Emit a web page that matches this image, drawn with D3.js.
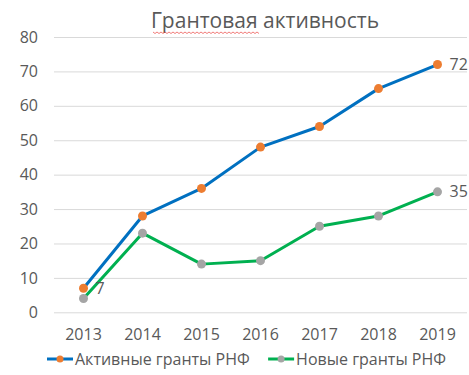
<!DOCTYPE html>
<html>
<head>
<meta charset="utf-8">
<script src="https://cdn.jsdelivr.net/npm/d3@7/dist/d3.min.js"></script>
<style>
  html, body { margin: 0; padding: 0; background: #fff; }
  svg { display: block; }
  text { font-family: "Open Sans", "Noto Sans", sans-serif; fill: #595959; }
</style>
</head>
<body>
<svg id="chart" width="469" height="375"></svg>
<script>
// Grant activity by year
const years = ["2013", "2014", "2015", "2016", "2017", "2018", "2019"];
const activeGrants = [7, 28, 36, 48, 54, 65, 72];
const newGrants = [4, 23, 14, 15, 25, 28, 35];
const yTicks = [0, 10, 20, 30, 40, 50, 60, 70, 80];
const titleText = "Грантовая активность";
const seriesNames = ["Активные гранты РНФ", "Новые гранты РНФ"];

const svg = d3.select("#chart");
const plot = { left: 54, right: 467, top: 37, bottom: 312.3 };

const x = d3.scaleBand().domain(years).range([plot.left, plot.right]).padding(0);
const y = d3.scaleLinear().domain([0, 80]).range([plot.bottom, plot.top]);
const cx = d => x(d) + x.bandwidth() / 2;

const series = [
  { name: seriesNames[0], values: activeGrants, line: "#0070C0", dot: "#ED7D31", labelIdx: [0, 6] },
  { name: seriesNames[1], values: newGrants, line: "#00B050", dot: "#A5A5A5", labelIdx: [6] }
];

// gridlines + y labels via axis
const yAxis = d3.axisLeft(y).tickValues(yTicks).tickSize(-(plot.right - plot.left)).tickPadding(16);
const gy = svg.append("g").attr("transform", `translate(${plot.left},0)`).call(yAxis);
gy.select(".domain").remove();
gy.selectAll(".tick line").attr("stroke", "#d9d9d9").attr("stroke-width", 1);
gy.selectAll(".tick text").attr("font-size", 16).style("fill", "#595959");

// x labels
const xAxis = d3.axisBottom(x).tickSize(0).tickPadding(16);
const gx = svg.append("g").attr("transform", `translate(0,${plot.bottom})`).call(xAxis);
gx.select(".domain").remove();
gx.selectAll(".tick text").attr("font-size", 16).style("fill", "#595959");

// lines
const line = d3.line().x((d, i) => cx(years[i])).y(d => y(d));
series.forEach(s => {
  svg.append("path")
    .datum(s.values)
    .attr("d", line)
    .attr("fill", "none")
    .attr("stroke", s.line)
    .attr("stroke-width", 3)
    .attr("stroke-linejoin", "round")
    .attr("stroke-linecap", "round");
});
series.forEach(s => {
  svg.append("g").selectAll("circle")
    .data(s.values)
    .join("circle")
    .attr("cx", (d, i) => cx(years[i]))
    .attr("cy", d => y(d))
    .attr("r", 4.5)
    .attr("fill", s.dot);
});

// data labels
series.forEach(s => {
  s.labelIdx.forEach(i => {
    svg.append("text")
      .attr("x", cx(years[i]) + 12)
      .attr("y", y(s.values[i]))
      .attr("dy", "0.35em")
      .attr("font-size", 16)
      .text(s.values[i]);
  });
});

// title
svg.append("text")
  .attr("x", 265)
  .attr("y", 28)
  .attr("text-anchor", "middle")
  .attr("font-size", 21)
  .text(titleText);

// spelling squiggle under the first word
const sq = d3.path();
const sx0 = 153, sx1 = 258, sy = 32;
sq.moveTo(sx0, sy);
for (let px = sx0, k = 0; px < sx1; px += 2, k++) {
  sq.lineTo(px + 2, sy + (k % 2 === 0 ? 1.5 : 0));
}
svg.append("path").attr("d", sq.toString()).attr("fill", "none").attr("stroke", "#e8302a").attr("stroke-width", 0.8).attr("opacity", 0.8);

// legend: first entry starts at the left edge, second entry ends at the right edge
const ly = 359, legLeft = 47, legRight = 446, keyW = 26, keyGap = 2;
const legend = svg.append("g");
const entries = series.map(s => {
  const g = legend.append("g");
  g.append("line").attr("x1", 0).attr("x2", keyW).attr("y1", ly).attr("y2", ly)
    .attr("stroke", s.line).attr("stroke-width", 3);
  g.append("circle").attr("cx", keyW / 2).attr("cy", ly).attr("r", 3.5).attr("fill", s.dot);
  const t = g.append("text").attr("x", keyW + keyGap).attr("y", ly).attr("dy", "0.35em")
    .attr("font-size", 16).text(s.name);
  return { g, w: keyW + keyGap + t.node().getComputedTextLength() };
});
entries[0].g.attr("transform", `translate(${legLeft},0)`);
entries[1].g.attr("transform", `translate(${legRight - entries[1].w},0)`);
</script>
</body>
</html>
